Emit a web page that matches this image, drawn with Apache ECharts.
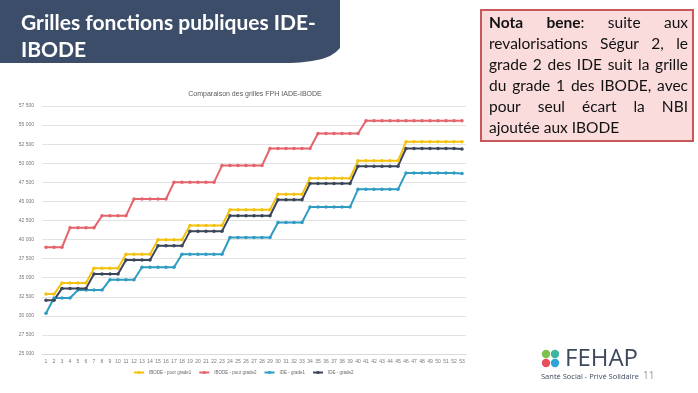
<!DOCTYPE html>
<html><head><meta charset="utf-8">
<script src="https://cdn.jsdelivr.net/npm/echarts@6/dist/echarts.min.js"></script>
<style>html,body{margin:0;padding:0;background:#fff}#c{width:698px;height:393px}</style>
</head><body><div id="c"></div>
<script>
const categories = ['1','2','3','4','5','6','7','8','9','10','11','12','13','14','15','16','17','18','19','20','21','22','23','24','25','26','27','28','29','30','31','32','33','34','35','36','37','38','39','40','41','42','43','44','45','46','47','48','49','50','51','52','53'];

const seriesNames = ['IBODE - pour grade1','IBODE - pour grade2','IDE - grade1','IDE - grade2'];

const ibodeGrade1 = [32850,32850,34300,34300,34300,34300,36230,36230,36230,36230,38070,38070,38070,38070,39960,39960,39960,39960,41840,41840,41840,41840,41840,43900,43900,43900,43900,43900,43900,45920,45920,45920,45920,48030,48030,48030,48030,48030,48030,50310,50310,50310,50310,50310,50310,52810,52810,52810,52810,52810,52810,52810,52810];

const ibodeGrade2 = [38990,38990,38990,41530,41530,41530,41530,43110,43110,43110,43110,45310,45310,45310,45310,45310,47500,47500,47500,47500,47500,47500,49690,49690,49690,49690,49690,49690,51930,51930,51930,51930,51930,51930,53900,53900,53900,53900,53900,53900,55570,55570,55570,55570,55570,55570,55570,55570,55570,55570,55570,55570,55570];

const ideGrade1 = [30350,32330,32330,32330,33380,33380,33380,33380,34740,34740,34740,34740,36360,36360,36360,36360,36360,38070,38070,38070,38070,38070,38070,40260,40260,40260,40260,40260,40260,42240,42240,42240,42240,44250,44250,44250,44250,44250,44250,46580,46580,46580,46580,46580,46580,48730,48730,48730,48730,48730,48730,48730,48650];

const ideGrade2 = [32060,32060,33600,33600,33600,33600,35480,35480,35480,35480,37330,37330,37330,37330,39170,39170,39170,39170,41100,41100,41100,41100,41100,43110,43110,43110,43110,43110,43110,45220,45220,45220,45220,47330,47330,47330,47330,47330,47330,49610,49610,49610,49610,49610,49610,51930,51930,51930,51930,51930,51930,51930,51850];

const colors = ['#F4C20D','#E5646B','#2E9CC2','#3A4558'];

const yMin = 25000, yMax = 57500, yStep = 2500;

const chart = echarts.init(document.getElementById('c'), null, {renderer:'canvas'});

// ---- justified "Nota bene" text built from words ----
const FS = 15.5, FF = 'Lato';
const ctx = document.createElement('canvas').getContext('2d');
function mw(t, b){ ctx.font = (b ? 'bold ' : '') + FS + 'px ' + FF; return ctx.measureText(t).width; }
const notaLines = [
  [[['Nota',1]], [['bene',1],[':',0]], [['suite',0]], [['aux',0]]],
  [[['revalorisations',0]], [['Ségur',0]], [['2,',0]], [['le',0]]],
  [[['grade',0]], [['2',0]], [['des',0]], [['IDE',0]], [['suit',0]], [['la',0]], [['grille',0]]],
  [[['du',0]], [['grade',0]], [['1',0]], [['des',0]], [['IBODE,',0]], [['avec',0]]],
  [[['pour',0]], [['seul',0]], [['écart',0]], [['la',0]], [['NBI',0]]],
  [[['ajoutée',0]], [['aux',0]], [['IBODE',0]]]
];
const notaX0 = 489, notaX1 = 688, notaY0 = 23, notaDY = 21;
const notaEls = [];
notaLines.forEach((line, li) => {
  const widths = line.map(word => word.reduce((s, p) => s + mw(p[0], p[1]), 0));
  const total = widths.reduce((a, b) => a + b, 0);
  const last = li === notaLines.length - 1;
  const gap = last ? mw(' ', 0) : (notaX1 - notaX0 - total) / (line.length - 1);
  let x = notaX0;
  line.forEach((word, wi) => {
    let xx = x;
    word.forEach(p => {
      notaEls.push({type:'text', x: xx, y: notaY0 + li * notaDY, z: 20,
        style:{text:p[0], font:(p[1]?'bold ':'') + FS + 'px ' + FF, fill:'#111', align:'left', verticalAlign:'middle'}});
      xx += mw(p[0], p[1]);
    });
    x += widths[wi] + gap;
  });
});

const bannerPts = [[0,0],[340,0],[340,48],[336,52],[330,56],[322,59],[312,61],[300,62.5],[290,63],[0,63]];

const option = {
  animation: false,
  color: colors,
  title: {
    text: 'Comparaison des grilles FPH IADE-IBODE',
    left: 250, top: 86, textAlign: 'center',
    textStyle: {fontSize: 7, fontWeight: 'normal', color: '#595959', fontFamily: 'Liberation Sans'}
  },
  legend: {
    data: seriesNames,
    left: 133, top: 370, padding: 0,
    itemWidth: 10, itemHeight: 4, itemGap: 7,
    textStyle: {fontSize: 4.5, color: '#666', fontFamily: 'Liberation Sans'}
  },
  grid: {left: 42, right: 232, top: 106, bottom: 39, containLabel: false},
  xAxis: {
    type: 'category', data: categories, boundaryGap: true,
    axisLine: {lineStyle: {color: '#d9d9d9'}}, axisTick: {show: false},
    axisLabel: {interval: 0, fontSize: 5, color: '#777', margin: 5, fontFamily: 'Liberation Sans'}
  },
  yAxis: {
    type: 'value', min: yMin, max: yMax, interval: yStep,
    axisLine: {show: false}, axisTick: {show: false},
    splitLine: {lineStyle: {color: '#e3e3e3', width: 1}},
    axisLabel: {fontSize: 5, color: '#777', margin: 8, fontFamily: 'Liberation Sans',
      formatter: v => String(v).replace(/\B(?=(\d{3})+(?!\d))/g, ' ')}
  },
  series: [ibodeGrade1, ibodeGrade2, ideGrade1, ideGrade2].map((d, i) => ({
    name: seriesNames[i], type: 'line', data: d,
    symbol: 'circle', symbolSize: 3.5, showSymbol: true,
    lineStyle: {width: 2, color: colors[i]}, itemStyle: {color: colors[i]}
  })),
  graphic: [
    {type:'polygon', z: 10, shape:{points: bannerPts}, style:{fill:'#3C4D69'}},
    {type:'text', x: 21, y: 23, z: 11, style:{text:'Grilles fonctions publiques IDE-', font:'bold 21px Lato', fill:'#fff', verticalAlign:'middle'}},
    {type:'text', x: 21, y: 50, z: 11, style:{text:'IBODE', font:'bold 21px Lato', fill:'#fff', verticalAlign:'middle'}},
    {type:'rect', z: 15, shape:{x: 481, y: 10, width: 212, height: 131}, style:{fill:'#FADCDD', stroke:'#C9585A', lineWidth: 2}},
    ...notaEls,
    {type:'circle', z: 12, shape:{cx: 546, cy: 354, r: 4.2}, style:{fill:'#7DC24B'}},
    {type:'circle', z: 12, shape:{cx: 555, cy: 354, r: 4.2}, style:{fill:'#3DB5A0'}},
    {type:'circle', z: 12, shape:{cx: 546, cy: 363, r: 4.2}, style:{fill:'#E84F5B'}},
    {type:'circle', z: 12, shape:{cx: 555, cy: 363, r: 4.2}, style:{fill:'#2FA4D6'}},
    {type:'text', x: 565, y: 359, z: 12, style:{text:'FEHAP', font:'24px "Open Sans"', fill:'#3D4A5C', verticalAlign:'middle'}},
    {type:'text', x: 541, y: 377, z: 12, style:{text:'Santé Social - Privé Solidaire', font:'7.5px "Open Sans"', fill:'#3D4A5C', verticalAlign:'middle'}},
    {type:'text', x: 643, y: 376, z: 12, style:{text:'11', font:'10px "Open Sans"', fill:'#999', verticalAlign:'middle'}}
  ]
};
chart.setOption(option);
</script>
</body></html>
